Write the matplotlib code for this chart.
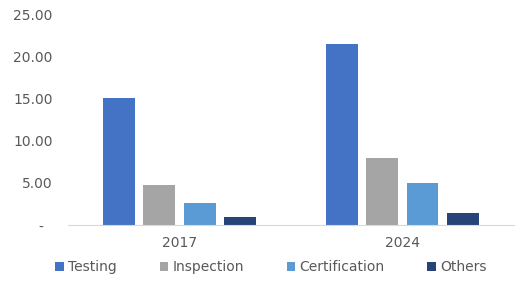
import matplotlib.pyplot as plt
import numpy as np

# Market values by service type
years = ["2017", "2024"]
series_names = ["Testing", "Inspection", "Certification", "Others"]
testing = [15.1, 21.5]
inspection = [4.8, 8.0]
certification = [2.65, 5.05]
others = [0.9, 1.45]
colors = ["#4472C4", "#A5A5A5", "#5B9BD5", "#264478"]

values = [testing, inspection, certification, others]

fig = plt.figure(figsize=(5.27, 2.87), dpi=100)
ax = fig.add_axes([0.129, 0.216, 0.846, 0.732])

x = np.arange(len(years))
width = 0.143
step = 0.181
for i, (name, vals) in enumerate(zip(series_names, values)):
    ax.bar(x + (i - 1.5) * step, vals, width, color=colors[i], label=name)

ax.set_xlim(-0.5, 1.5)
ax.set_ylim(0, 25)
ax.set_yticks([0, 5, 10, 15, 20, 25])
ax.set_yticklabels(["-  ", "5.00", "10.00", "15.00", "20.00", "25.00"])
ax.set_xticks(x)
ax.set_xticklabels(years)

for s in ["top", "right", "left"]:
    ax.spines[s].set_visible(False)
ax.spines["bottom"].set_color("#D9D9D9")
ax.tick_params(axis="both", length=0, labelsize=10, labelcolor="#595959")
ax.tick_params(axis="y", pad=11)
ax.tick_params(axis="x", pad=8)

ax.legend(loc="center", bbox_to_anchor=(0.455, -0.2), ncol=4, frameon=False,
          fontsize=10, labelcolor="#595959", handlelength=0.6, handleheight=0.6,
          handletextpad=0.3, columnspacing=3.1)

plt.savefig("out.png", dpi=100)
